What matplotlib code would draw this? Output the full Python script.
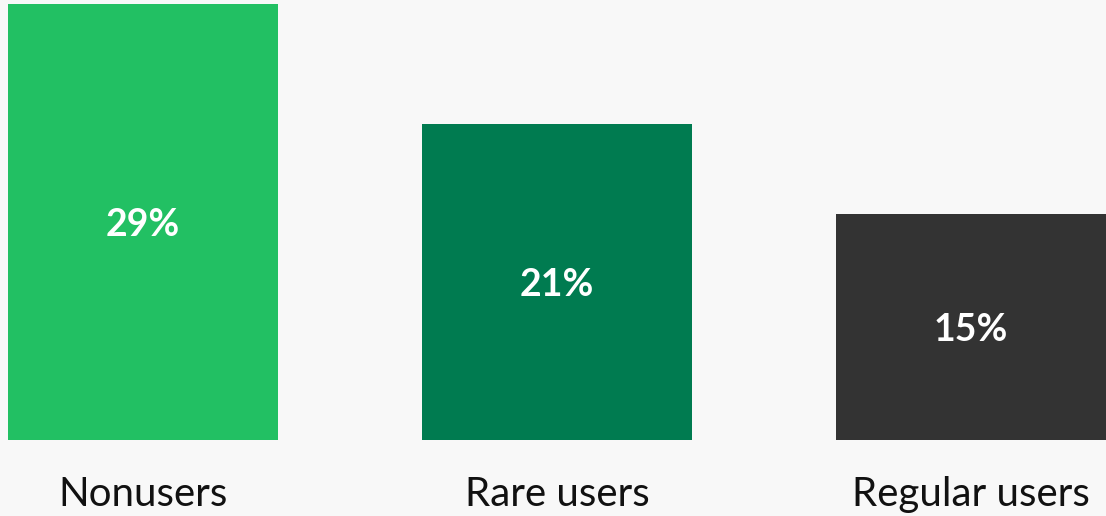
import matplotlib
matplotlib.use("Agg")
import matplotlib.pyplot as plt

categories = ["Nonusers", "Rare users", "Regular users"]
values = [29, 21, 15]
labels = ["29%", "21%", "15%"]
colors = ["#22c063", "#007b50", "#333333"]

W, H = 1106, 516
fig = plt.figure(figsize=(W / 100, H / 100), dpi=100)
fig.patch.set_facecolor("#f8f8f8")
ax = fig.add_axes([0, 76 / H, 1, 436 / H])
ax.set_facecolor("#f8f8f8")

x = list(range(len(categories)))
ax.bar(x, values, width=270 / 414, color=colors)
ax.set_xlim(-143 / 414, (W - 143) / 414)
ax.set_ylim(0, 29)
ax.axis("off")

for xi, v, lab in zip(x, values, labels):
    ax.text(xi, v / 2, lab, ha="center", va="center_baseline", color="white",
            fontsize=27, fontweight="bold", family="Lato")

for xi, cat in zip(x, categories):
    ax.annotate(cat, xy=(xi, 0), xycoords="data", xytext=(0, -66 * 0.72),
                textcoords="offset points", ha="center", va="baseline",
                fontsize=29, family="Lato", color="#111111")

fig.savefig("out.png", dpi=100, facecolor=fig.get_facecolor())
